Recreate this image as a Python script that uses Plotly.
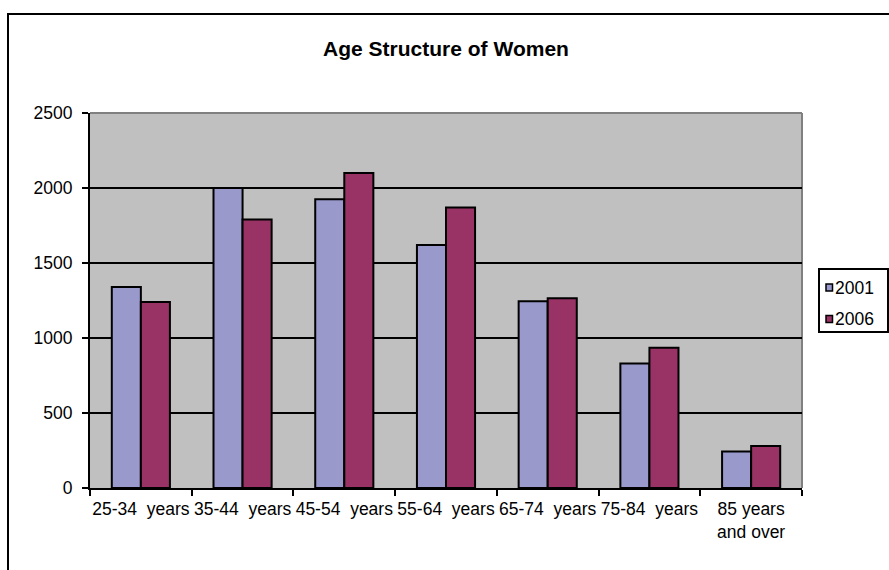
import plotly.graph_objects as go

# Age groups and population counts of women (2001 vs 2006)
categories = [
    "25-34\u00a0\u00a0years",
    "35-44\u00a0\u00a0years",
    "45-54\u00a0\u00a0years",
    "55-64\u00a0\u00a0years",
    "65-74\u00a0\u00a0years",
    "75-84\u00a0\u00a0years",
    "85 years<br>and over",
]
women_2001 = [1340, 2000, 1925, 1620, 1245, 830, 243]
women_2006 = [1240, 1790, 2100, 1870, 1265, 935, 280]
y_ticks = [0, 500, 1000, 1500, 2000, 2500]
series_names = ["2001", "2006"]
series_colors = ["#9999CC", "#993366"]

FONT = "Liberation Sans, Arial, sans-serif"
TEXT_SIZE = 17.5

fig = go.Figure()
for name, vals, col in zip(series_names, [women_2001, women_2006], series_colors):
    fig.add_trace(go.Bar(
        name=name, x=categories, y=vals, showlegend=False,
        marker=dict(color=col, line=dict(color="black", width=2)),
    ))

W, H = 889, 570
L, R, T, B = 90, 87, 113, 82
pw, ph = W - L - R, H - T - B

def px_x(p):
    return (p - L) / pw

def px_y(p):
    return (H - B - p) / ph

shapes = [
    # grey frame on the top and right of the plotting area
    dict(type="line", xref="paper", yref="paper", x0=0, x1=1, y0=1, y1=1,
         line=dict(color="#808080", width=2), layer="below"),
    dict(type="line", xref="paper", yref="paper", x0=1, x1=1, y0=0, y1=1,
         line=dict(color="#808080", width=2), layer="below"),
    # outer chart border
    dict(type="rect", xref="paper", yref="paper",
         x0=px_x(8), x1=px_x(900), y0=px_y(580), y1=px_y(14),
         line=dict(color="black", width=2), fillcolor="rgba(0,0,0,0)"),
    # legend box
    dict(type="rect", xref="paper", yref="paper",
         x0=px_x(819), x1=px_x(888), y0=px_y(332), y1=px_y(269),
         line=dict(color="black", width=2), fillcolor="white"),
]
annotations = []
legend_rows = [287.5, 319]
for name, col, yc in zip(series_names, series_colors, legend_rows):
    shapes.append(dict(
        type="rect", xref="paper", yref="paper",
        x0=px_x(826), x1=px_x(832.5), y0=px_y(yc + 3.5), y1=px_y(yc - 3.5),
        line=dict(color="black", width=1.5), fillcolor=col,
    ))
    annotations.append(dict(
        text=name, xref="paper", yref="paper", x=px_x(833), y=px_y(yc),
        xanchor="left", yanchor="middle", showarrow=False,
        font=dict(family=FONT, size=TEXT_SIZE, color="black"),
    ))

fig.update_layout(
    width=W, height=H,
    margin=dict(l=L, r=R, t=T, b=B, autoexpand=False),
    paper_bgcolor="white",
    plot_bgcolor="#C0C0C0",
    barmode="group",
    bargap=0.4286,
    bargroupgap=0,
    showlegend=False,
    font=dict(family=FONT, size=TEXT_SIZE, color="black"),
    title=dict(
        text="<b>Age Structure of Women</b>",
        x=0.5, xref="paper", xanchor="center",
        y=1 - 49 / H, yanchor="middle",
        font=dict(family=FONT, size=21, color="black"),
    ),
    xaxis=dict(
        showgrid=False,
        showline=True, linecolor="black", linewidth=2,
        ticks="outside", tickson="boundaries", ticklen=6,
        tickcolor="black", tickwidth=2, tickangle=0,
        tickfont=dict(family=FONT, size=TEXT_SIZE),
        ticklabelstandoff=4,
        fixedrange=True,
    ),
    yaxis=dict(
        range=[0, 2500],
        tickvals=y_ticks,
        showgrid=True, gridcolor="black", gridwidth=2,
        showline=True, linecolor="black", linewidth=2,
        ticks="outside", ticklen=6, tickcolor="black", tickwidth=2,
        tickfont=dict(family=FONT, size=TEXT_SIZE),
        ticklabelstandoff=6,
        zeroline=False,
        fixedrange=True,
    ),
    shapes=shapes,
    annotations=annotations,
)

fig.write_html("out.html")
